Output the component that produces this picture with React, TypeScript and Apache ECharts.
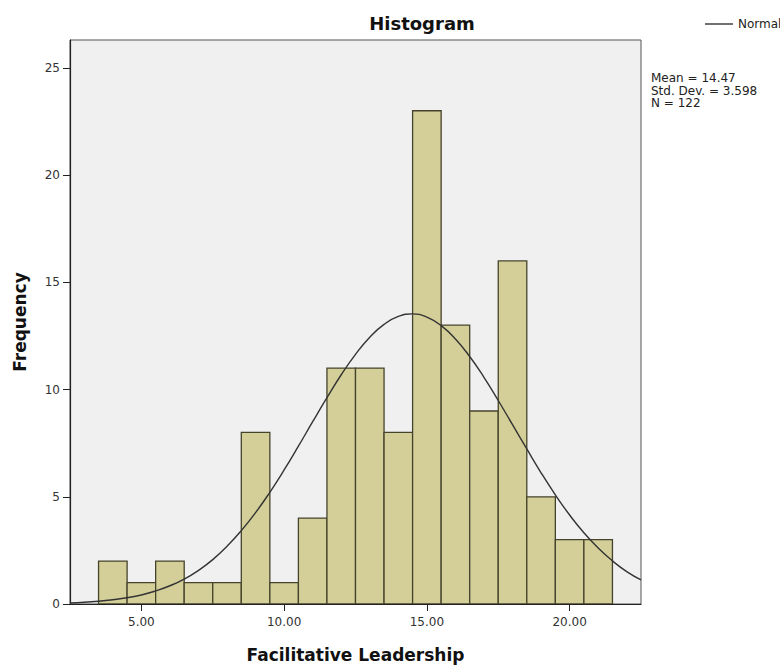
import React, { useEffect, useRef } from "react";
import * as echarts from "echarts";

// Histogram bins (center of each 1-unit bin) and their counts
const BIN_CENTERS = [4, 5, 6, 7, 8, 9, 10, 11, 12, 13, 14, 15, 16, 17, 18, 19, 20, 21];
const FREQUENCIES = [2, 1, 2, 1, 1, 8, 1, 4, 11, 11, 8, 23, 13, 9, 16, 5, 3, 3];
const BIN_WIDTH = 1;

// Normal curve (Mean 14.47, SD 3.598, N 122)
const CURVE_X = [
  2.5, 3, 3.5, 4, 4.5, 5, 5.5, 6, 6.5, 7, 7.5, 8, 8.5, 9, 9.5, 10, 10.5, 11, 11.5, 12,
  12.5, 13, 13.5, 14, 14.5, 15, 15.5, 16, 16.5, 17, 17.5, 18, 18.5, 19, 19.5, 20, 20.5,
  21, 21.5, 22, 22.5,
];
const CURVE_Y = [
  0.05, 0.08, 0.13, 0.2, 0.29, 0.42, 0.61, 0.85, 1.16, 1.57, 2.07, 2.69, 3.42, 4.26, 5.21,
  6.25, 7.36, 8.5, 9.62, 10.69, 11.64, 12.44, 13.04, 13.41, 13.53, 13.38, 12.98, 12.36,
  11.54, 10.57, 9.49, 8.36, 7.23, 6.12, 5.09, 4.15, 3.32, 2.61, 2.01, 1.51, 1.12,
];

const X_TICKS = [5, 10, 15, 20];
const STATS = ["Mean = 14.47", "Std. Dev. = 3.598", "N = 122"];

const FONT = "DejaVu Sans";

export default function App() {
  const ref = useRef<HTMLDivElement>(null);

  useEffect(() => {
    document.body.style.margin = "0";
    if (!ref.current) return;
    const chart = echarts.init(ref.current, null, { renderer: "svg" });

    const barData = BIN_CENTERS.map((c, i) => [c, FREQUENCIES[i]]);
    const curveData = CURVE_X.map((x, i) => [x, CURVE_Y[i]]);

    chart.setOption({
      animation: false,
      backgroundColor: "#ffffff",
      textStyle: { fontFamily: FONT },
      grid: {
        left: 70,
        right: 139,
        top: 40,
        bottom: 64,
        show: true,
        backgroundColor: "#f0f0f0",
        borderColor: "#555555",
        borderWidth: 1,
      },
      legend: {
        show: true,
        left: 700,
        top: 13,
        itemWidth: 28,
        itemHeight: 1.4,
        data: [{ name: "Normal", icon: "rect" }],
        itemStyle: { color: "#333333" },
        textStyle: { fontFamily: FONT, fontSize: 12, color: "#222" },
      },
      xAxis: {
        type: "value",
        min: 2.5,
        max: 22.5,
        name: "Facilitative Leadership",
        nameLocation: "middle",
        nameGap: 42,
        nameTextStyle: { fontFamily: FONT, fontSize: 17, fontWeight: "bold", color: "#111" },
        splitLine: { show: false },
        axisLine: { show: true, lineStyle: { color: "#222", width: 1.2 } },
        axisTick: {
          show: true,
          length: 7,
          customValues: X_TICKS,
          lineStyle: { color: "#222" },
        },
        axisLabel: {
          customValues: X_TICKS,
          margin: 12,
          fontFamily: FONT,
          fontSize: 12,
          color: "#333",
          formatter: (v: number) => v.toFixed(2),
        },
      },
      yAxis: {
        type: "value",
        min: 0,
        max: 26.3,
        interval: 5,
        name: "Frequency",
        nameLocation: "middle",
        nameGap: 42,
        nameTextStyle: { fontFamily: FONT, fontSize: 17, fontWeight: "bold", color: "#111" },
        splitLine: { show: false },
        axisLine: { show: true, lineStyle: { color: "#222", width: 1.2 } },
        axisTick: { show: true, length: 7, lineStyle: { color: "#222" } },
        axisLabel: {
          margin: 10,
          fontFamily: FONT,
          fontSize: 12,
          color: "#333",
          showMaxLabel: false,
        },
      },
      graphic: [
        {
          type: "text",
          x: 422,
          y: 23,
          style: {
            text: "Histogram",
            fontFamily: FONT,
            fontSize: 18,
            fontWeight: "bold",
            fill: "#111",
            align: "center",
            verticalAlign: "middle",
          },
        },
        {
          type: "text",
          x: 651,
          y: 72,
          style: {
            text: STATS.join("\n"),
            fontFamily: FONT,
            fontSize: 12,
            lineHeight: 12.5,
            fill: "#222",
            align: "left",
            verticalAlign: "top",
          },
        },
      ],
      series: [
        {
          type: "custom",
          name: "Frequency",
          data: barData,
          encode: { x: 0, y: 1 },
          clip: true,
          renderItem: (params: any, api: any) => {
            const x = api.value(0);
            const y = api.value(1);
            const p0 = api.coord([x - BIN_WIDTH / 2, y]);
            const p1 = api.coord([x + BIN_WIDTH / 2, 0]);
            return {
              type: "rect",
              shape: { x: p0[0], y: p0[1], width: p1[0] - p0[0], height: p1[1] - p0[1] },
              style: { fill: "#d4cf98", stroke: "#46432c", lineWidth: 1.3 },
            };
          },
        },
        {
          type: "line",
          name: "Normal",
          data: curveData,
          smooth: true,
          symbol: "none",
          showSymbol: false,
          clip: true,
          lineStyle: { color: "#333333", width: 1.4 },
          itemStyle: { color: "#333333" },
          z: 5,
        },
      ],
    });

    return () => chart.dispose();
  }, []);

  return (
    <div
      ref={ref}
      style={{ position: "absolute", left: 0, top: 0, width: 780, height: 668 }}
    />
  );
}
